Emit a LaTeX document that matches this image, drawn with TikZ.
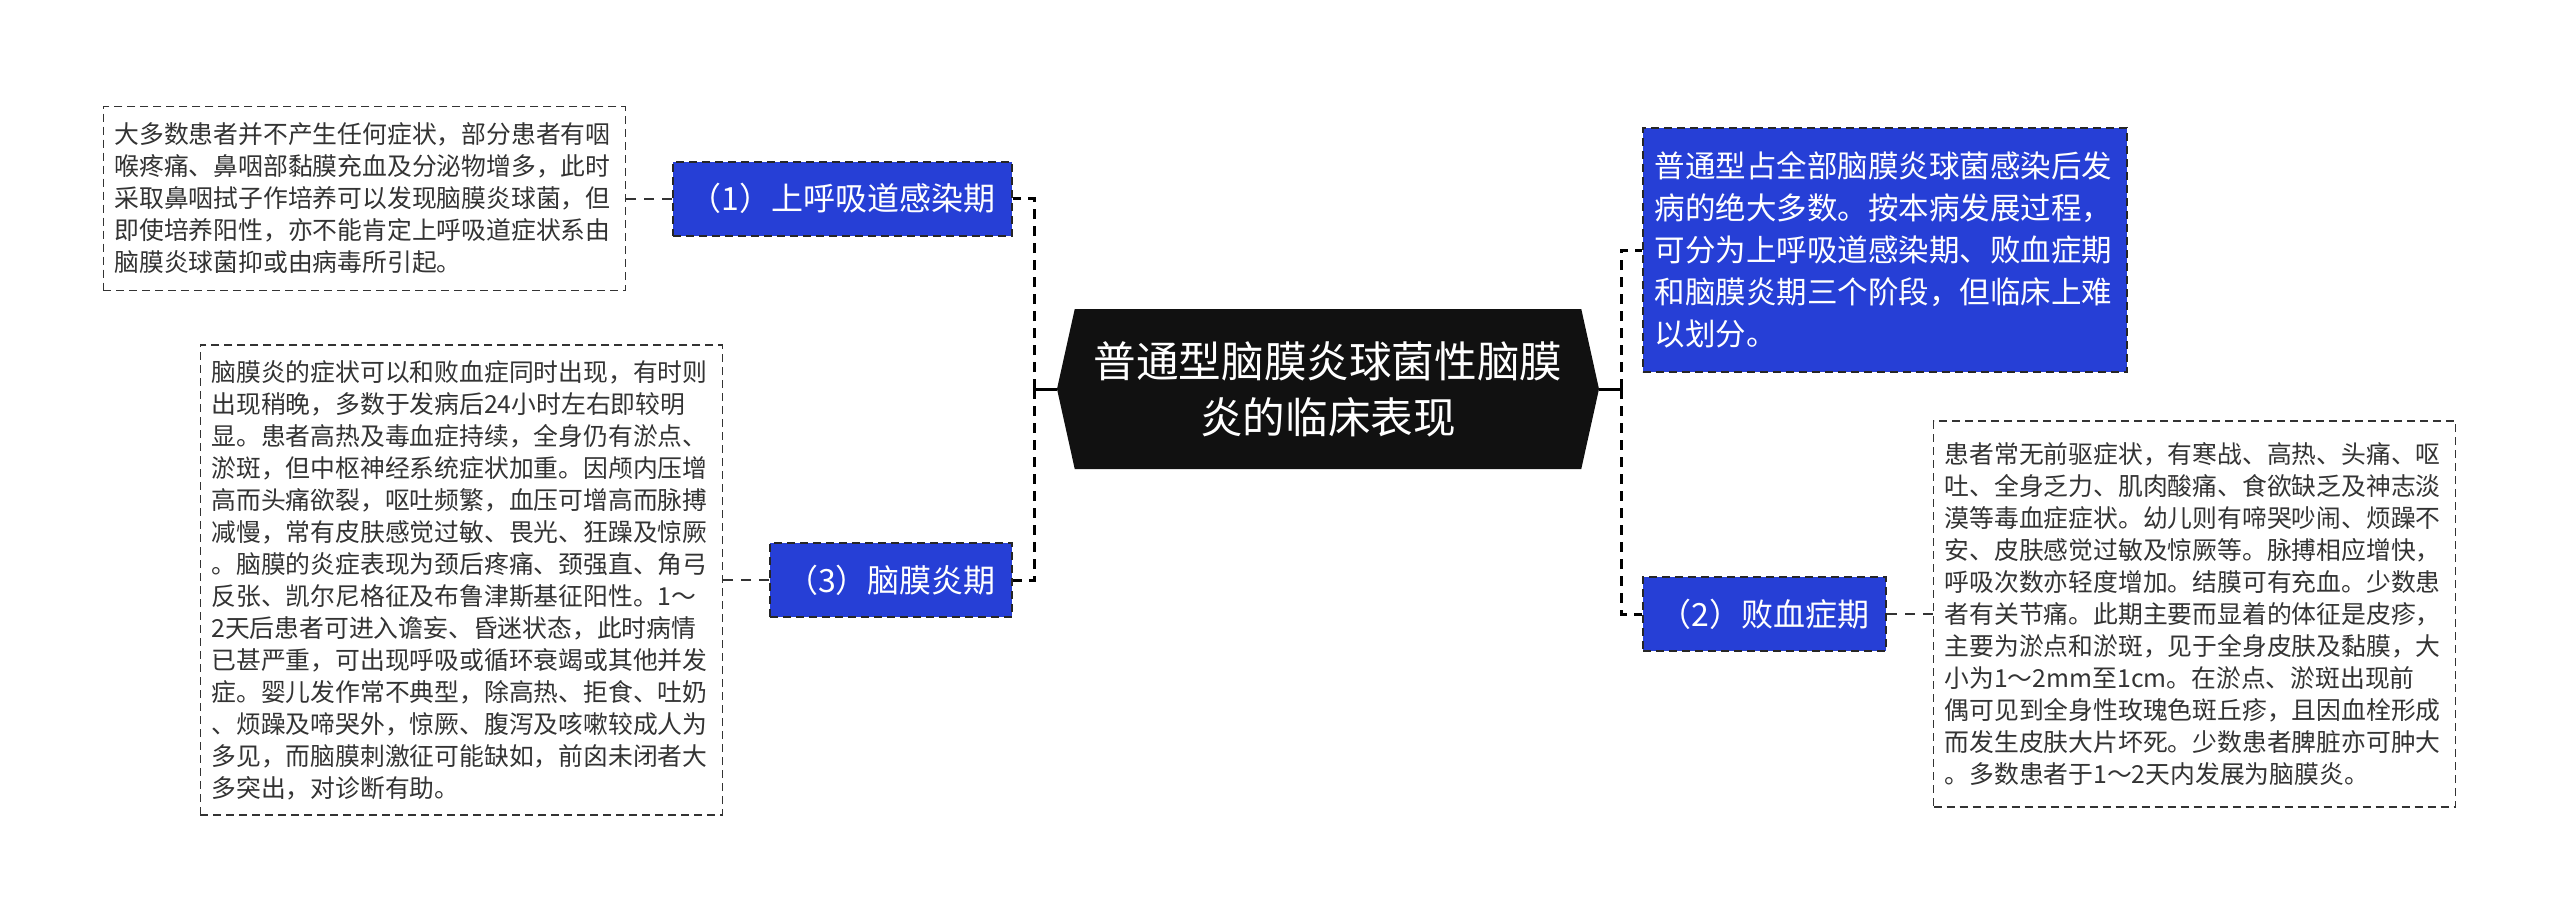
\documentclass[tikz,border=0pt]{standalone}
\usepackage{fontspec}
\setmainfont{Noto Sans CJK SC}
\usetikzlibrary{positioning,shapes.symbols}

\definecolor{stageblue}{RGB}{38,63,214}
\definecolor{rootblack}{RGB}{17,17,17}
\definecolor{notegray}{RGB}{51,51,51}

\tikzset{
  rootnode/.style={signal, signal to=west and east, signal pointer angle=155,
    fill=rootblack, text=white, align=center, inner sep=0pt,
    minimum width=271pt, minimum height=80pt,
    font=\fontsize{21.3pt}{28pt}\selectfont},
  stagenode/.style={rectangle, fill=stageblue, draw=black!85, line width=1pt,
    dash pattern=on 4pt off 2.5pt, text=white, inner sep=0pt,
    minimum height=37pt, font=\fontsize{16pt}{20pt}\selectfont},
  summarybox/.style={stagenode, align=left, text width=230pt, inner xsep=6pt,
    minimum height=122pt, font=\fontsize{15.25pt}{21pt}\selectfont},
  notebox/.style={rectangle, draw=notegray, line width=0.6pt,
    dash pattern=on 4pt off 2.5pt, text=notegray, align=left,
    text width=250pt, inner xsep=5.5pt, inner ysep=0pt,
    font=\fontsize{12.4pt}{16pt}\selectfont},
  stem/.style={draw=black, line width=1.5pt},
  trunk/.style={draw=black, line width=1.5pt, dash pattern=on 5pt off 3.5pt},
  twig/.style={draw=notegray, line width=1pt, dash pattern=on 5pt off 4pt}
}

\begin{document}
\begin{tikzpicture}[x=0.5pt, y=-0.5pt, node distance=23pt]
    \useasboundingbox (0,0) rectangle (2560,923);

    % Nodes
    \node[rootnode] (root) at (1328,389) {普通型脑膜炎球菌性脑膜\\炎的临床表现};

    \node[stagenode, minimum width=169.5pt] (upper) at (842.5,198.5) {（1）上呼吸道感染期};
    \node[stagenode, minimum width=121pt] (mening) at (891,580) {（3）脑膜炎期};
    \node[summarybox] (summary) at (1884.5,250) {普通型占全部脑膜炎球菌感染后发\\病的绝大多数。按本病发展过程，\\可分为上呼吸道感染期、败血症期\\和脑膜炎期三个阶段，但临床上难\\以划分。};
    \node[stagenode, minimum width=121.5pt] (sepsis) at (1764.5,614) {（2）败血症期};

    \node[notebox, minimum height=92pt] (upperdesc) [left=of upper] {大多数患者并不产生任何症状，部分患者有咽\\喉疼痛、鼻咽部黏膜充血及分泌物增多，此时\\采取鼻咽拭子作培养可以发现脑膜炎球菌，但\\即使培养阳性，亦不能肯定上呼吸道症状系由\\脑膜炎球菌抑或由病毒所引起。};
    \node[notebox, minimum height=235pt] (meningdesc) [left=of mening] {脑膜炎的症状可以和败血症同时出现，有时则\\出现稍晚，多数于发病后24小时左右即较明\\显。患者高热及毒血症持续，全身仍有淤点、\\淤斑，但中枢神经系统症状加重。因颅内压增\\高而头痛欲裂，呕吐频繁，血压可增高而脉搏\\减慢，常有皮肤感觉过敏、畏光、狂躁及惊厥\\。脑膜的炎症表现为颈后疼痛、颈强直、角弓\\反张、凯尔尼格征及布鲁津斯基征阳性。1～\\2天后患者可进入谵妄、昏迷状态，此时病情\\已甚严重，可出现呼吸或循环衰竭或其他并发\\症。婴儿发作常不典型，除高热、拒食、吐奶\\、烦躁及啼哭外，惊厥、腹泻及咳嗽较成人为\\多见，而脑膜刺激征可能缺如，前囟未闭者大\\多突出，对诊断有助。};
    \node[notebox, minimum height=193pt] (sepsisdesc) [right=of sepsis] {患者常无前驱症状，有寒战、高热、头痛、呕\\吐、全身乏力、肌肉酸痛、食欲缺乏及神志淡\\漠等毒血症症状。幼儿则有啼哭吵闹、烦躁不\\安、皮肤感觉过敏及惊厥等。脉搏相应增快，\\呼吸次数亦轻度增加。结膜可有充血。少数患\\者有关节痛。此期主要而显着的体征是皮疹，\\主要为淤点和淤斑，见于全身皮肤及黏膜，大\\小为1～2mm至1cm。在淤点、淤斑出现前\\偶可见到全身性玫瑰色斑丘疹，且因血栓形成\\而发生皮肤大片坏死。少数患者脾脏亦可肿大\\。多数患者于1～2天内发展为脑膜炎。};

    \coordinate[left=11pt of root.west] (lefttrunk);
    \coordinate[right=11pt of root.east] (righttrunk);

    % Connectors
    \draw[stem] (root.west) -- (lefttrunk);
    \draw[stem] (root.east) -- (righttrunk);
    \draw[trunk] (lefttrunk) |- (upper.east);
    \draw[trunk] (lefttrunk) |- (mening.east);
    \draw[trunk] (righttrunk) |- (summary.west);
    \draw[trunk] (righttrunk) |- (sepsis.west);

    \draw[twig] (upper) -- (upperdesc);
    \draw[twig] (mening) -- (meningdesc);
    \draw[twig] (sepsis) -- (sepsisdesc);
\end{tikzpicture}
\end{document}
